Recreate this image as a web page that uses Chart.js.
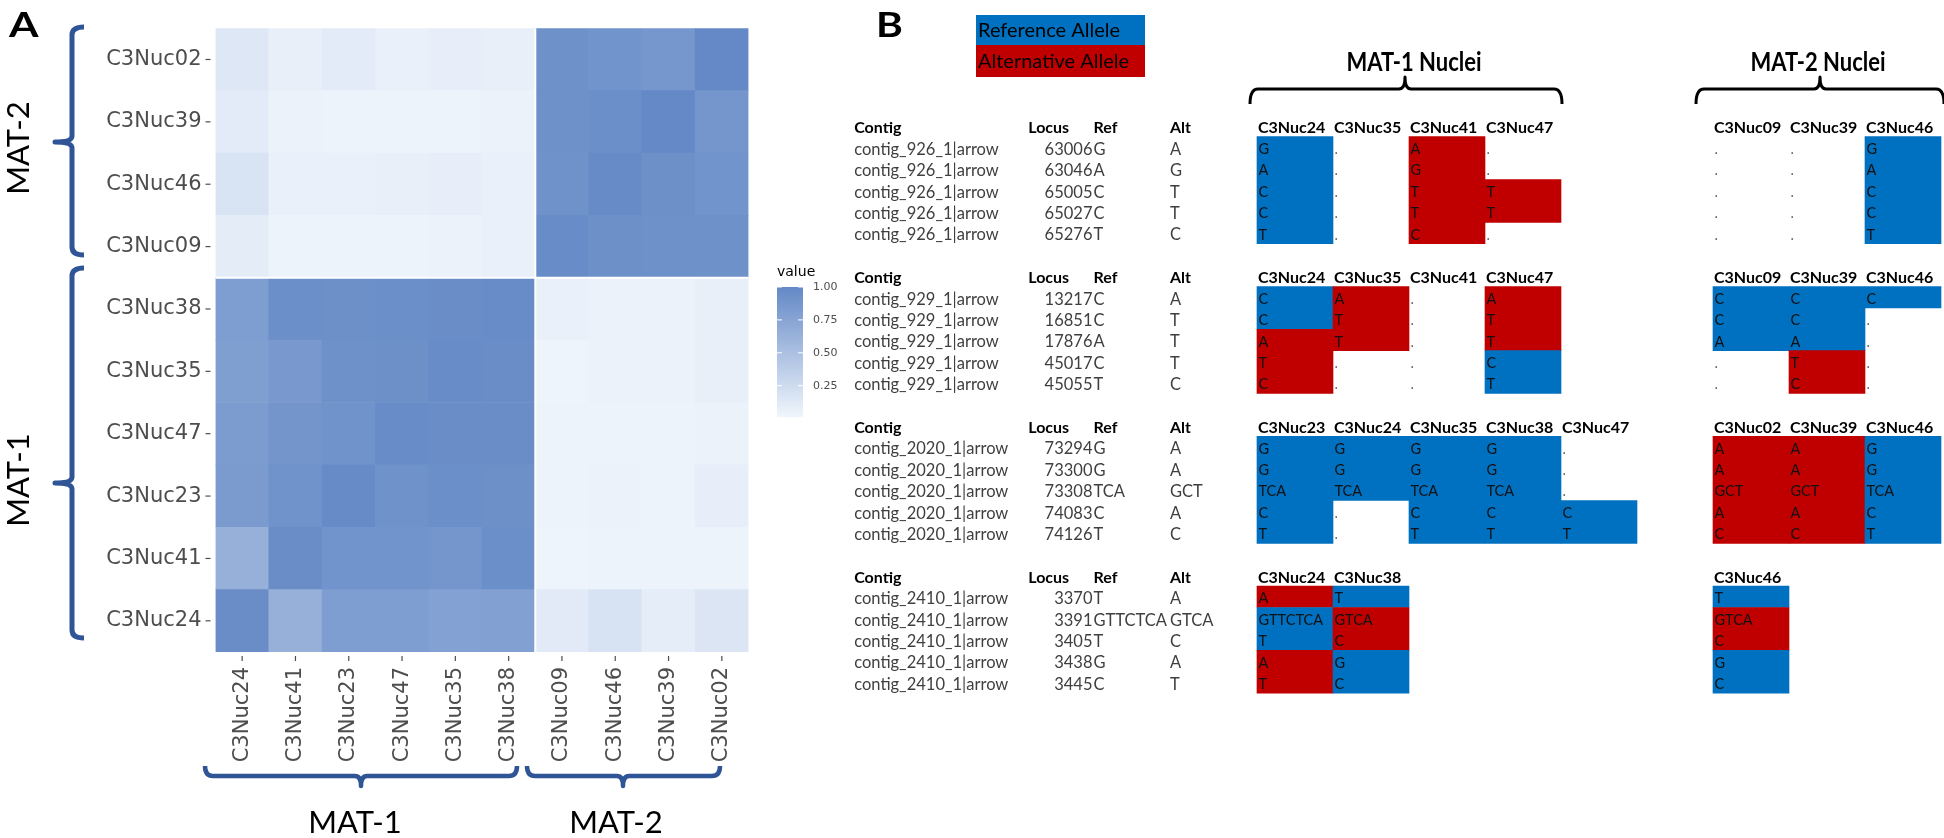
<!DOCTYPE html>
<html><head><meta charset="utf-8">
<script src="https://cdn.jsdelivr.net/npm/chart.js@4.4.1/dist/chart.umd.min.js"></script>
<style>
html,body{margin:0;padding:0;background:#fff;}
#wrap{position:relative;width:1944px;height:838px;overflow:hidden;background:#fff;}
canvas{position:absolute;left:0;top:0;}
</style></head><body>
<div id="wrap"><canvas id="heat" width="1944" height="838"></canvas><canvas id="alle" width="1944" height="838"></canvas></div>
<script>
// ================= Panel A data =================
const COL_NUCLEI = ['C3Nuc24','C3Nuc41','C3Nuc23','C3Nuc47','C3Nuc35','C3Nuc38','C3Nuc09','C3Nuc46','C3Nuc39','C3Nuc02'];
const ROW_NUCLEI = ['C3Nuc02','C3Nuc39','C3Nuc46','C3Nuc09','C3Nuc38','C3Nuc35','C3Nuc47','C3Nuc23','C3Nuc41','C3Nuc24']; // top -> bottom
const sim_C3Nuc02 = [0.15,0.07,0.11,0.06,0.08,0.07,0.93,0.90,0.87,1.00];
const sim_C3Nuc39 = [0.11,0.05,0.04,0.04,0.04,0.05,0.93,0.95,1.00,0.88];
const sim_C3Nuc46 = [0.18,0.06,0.06,0.07,0.08,0.06,0.92,0.98,0.94,0.90];
const sim_C3Nuc09 = [0.10,0.04,0.04,0.04,0.05,0.06,0.97,0.94,0.93,0.93];
const sim_C3Nuc38 = [0.82,0.95,0.94,0.95,0.96,0.97,0.06,0.05,0.05,0.07];
const sim_C3Nuc35 = [0.80,0.86,0.93,0.94,0.97,0.96,0.03,0.05,0.05,0.07];
const sim_C3Nuc47 = [0.83,0.89,0.91,0.97,0.96,0.96,0.04,0.04,0.04,0.05];
const sim_C3Nuc23 = [0.84,0.91,0.98,0.92,0.95,0.94,0.04,0.05,0.04,0.08];
const sim_C3Nuc41 = [0.65,0.96,0.90,0.90,0.88,0.95,0.03,0.04,0.04,0.04];
const sim_C3Nuc24 = [0.96,0.65,0.82,0.82,0.78,0.79,0.12,0.19,0.09,0.16];
const SIM_ROWS = [sim_C3Nuc02,sim_C3Nuc39,sim_C3Nuc46,sim_C3Nuc09,sim_C3Nuc38,sim_C3Nuc35,sim_C3Nuc47,sim_C3Nuc23,sim_C3Nuc41,sim_C3Nuc24];
const LEGEND_TICKS = [0.25,0.50,0.75,1.00];
const LEGEND_LIMITS = [0.012,1.00];
const GROUP_LABELS = ['MAT-1','MAT-2'];

// ================= Panel B data =================
const contig926 = 'contig_926_1|arrow';
const loci926 = [63006,63046,65005,65027,65276];
const ref926 = ['G','A','C','C','T'];
const alt926 = ['A','G','T','T','C'];
const mat1Nuclei926 = ['C3Nuc24','C3Nuc35','C3Nuc41','C3Nuc47'];
const mat1Calls926 = [['G','A','C','C','T'],['.','.','.','.','.'],['A','G','T','T','C'],['.','.','T','T','.']];
const mat1State926 = ['RRRRR','.....','AAAAA','..AA.'];
const mat2Nuclei926 = ['C3Nuc09','C3Nuc39','C3Nuc46'];
const mat2Calls926 = [['.','.','.','.','.'],['.','.','.','.','.'],['G','A','C','C','T']];
const mat2State926 = ['.....','.....','RRRRR'];

const contig929 = 'contig_929_1|arrow';
const loci929 = [13217,16851,17876,45017,45055];
const ref929 = ['C','C','A','C','T'];
const alt929 = ['A','T','T','T','C'];
const mat1Nuclei929 = ['C3Nuc24','C3Nuc35','C3Nuc41','C3Nuc47'];
const mat1Calls929 = [['C','C','A','T','C'],['A','T','T','.','.'],['.','.','.','.','.'],['A','T','T','C','T']];
const mat1State929 = ['RRAAA','AAA..','.....','AAARR'];
const mat2Nuclei929 = ['C3Nuc09','C3Nuc39','C3Nuc46'];
const mat2Calls929 = [['C','C','A','.','.'],['C','C','A','T','C'],['C','.','.','.','.']];
const mat2State929 = ['RRR..','RRRAA','R....'];

const contig2020 = 'contig_2020_1|arrow';
const loci2020 = [73294,73300,73308,74083,74126];
const ref2020 = ['G','G','TCA','C','T'];
const alt2020 = ['A','A','GCT','A','C'];
const mat1Nuclei2020 = ['C3Nuc23','C3Nuc24','C3Nuc35','C3Nuc38','C3Nuc47'];
const mat1Calls2020 = [['G','G','TCA','C','T'],['G','G','TCA','.','.'],['G','G','TCA','C','T'],['G','G','TCA','C','T'],['.','.','.','C','T']];
const mat1State2020 = ['RRRRR','RRR..','RRRRR','RRRRR','...RR'];
const mat2Nuclei2020 = ['C3Nuc02','C3Nuc39','C3Nuc46'];
const mat2Calls2020 = [['A','A','GCT','A','C'],['A','A','GCT','A','C'],['G','G','TCA','C','T']];
const mat2State2020 = ['AAAAA','AAAAA','RRRRR'];

const contig2410 = 'contig_2410_1|arrow';
const loci2410 = [3370,3391,3405,3438,3445];
const ref2410 = ['T','GTTCTCA','T','G','C'];
const alt2410 = ['A','GTCA','C','A','T'];
const mat1Nuclei2410 = ['C3Nuc24','C3Nuc38'];
const mat1Calls2410 = [['A','GTTCTCA','T','A','T'],['T','GTCA','C','G','C']];
const mat1State2410 = ['ARRAA','RAARR'];
const mat2Nuclei2410 = ['C3Nuc46'];
const mat2Calls2410 = [['T','GTCA','C','G','C']];
const mat2State2410 = ['RAARR'];

const TABLE_HEADERS = ['Contig','Locus','Ref','Alt'];
const LEGEND_ITEMS = ['Reference Allele','Alternative Allele'];
const GROUP_TITLES = ['MAT-1 Nuclei','MAT-2 Nuclei'];

// ================= styles / layout =================
const LOW = [242,247,253], HIGH = [100,137,198];
function fillFor(v){
  const t = Math.max(0, Math.min(1, v));
  const c = LOW.map((l,i)=>Math.round(l + (HIGH[i]-l)*t));
  return `rgb(${c[0]},${c[1]},${c[2]})`;
}
const REF_BLUE = '#0070c0', ALT_RED = '#c00000';
const BRACE_BLUE = '#2f5597';
const AX_FONT = 'DejaVu Sans';
const B_FONT = 'Lato';

function txt(ctx, s, x, y, font, color, align, sx, sy, base){
  ctx.save(); ctx.font = font; ctx.fillStyle = color; ctx.textAlign = align || 'left';
  ctx.textBaseline = base || 'middle';
  ctx.translate(x, y); ctx.scale(sx || 1, sy || 1); ctx.fillText(s, 0, 0); ctx.restore();
}
function braceV(ctx, x, y1, y2, ym, xEnd, xNub, lw, color){
  const r = 8;
  ctx.save(); ctx.strokeStyle = color; ctx.lineWidth = lw; ctx.lineJoin='round'; ctx.lineCap='butt';
  ctx.beginPath();
  ctx.moveTo(xEnd, y1);
  ctx.quadraticCurveTo(x, y1, x, y1 + r);
  ctx.lineTo(x, ym - 6);
  ctx.quadraticCurveTo(x, ym, xNub, ym);
  ctx.quadraticCurveTo(x, ym, x, ym + 6);
  ctx.lineTo(x, y2 - r);
  ctx.quadraticCurveTo(x, y2, xEnd, y2);
  ctx.stroke(); ctx.restore();
}
function braceH(ctx, y, x1, x2, xm, yEnd, yNub, lw, color){
  const r = 8;
  ctx.save(); ctx.strokeStyle = color; ctx.lineWidth = lw; ctx.lineJoin='round'; ctx.lineCap='butt';
  ctx.beginPath();
  ctx.moveTo(x1, yEnd);
  ctx.quadraticCurveTo(x1, y, x1 + r, y);
  ctx.lineTo(xm - 6, y);
  ctx.quadraticCurveTo(xm, y, xm, yNub);
  ctx.quadraticCurveTo(xm, y, xm + 6, y);
  ctx.lineTo(x2 - r, y);
  ctx.quadraticCurveTo(x2, y, x2, yEnd);
  ctx.stroke(); ctx.restore();
}

// ================= Panel A chart =================
const bottomUp = ROW_NUCLEI.slice().reverse();
const heatDatasets = bottomUp.map((name) => {
  const vals = SIM_ROWS[ROW_NUCLEI.indexOf(name)];
  return {
    label: name,
    data: COL_NUCLEI.map(() => 1),
    backgroundColor: vals.map(fillFor),
    borderWidth: 0,
    barPercentage: 1,
    categoryPercentage: 1,
    stack: 'cells'
  };
});

const heatDecor = {
  id: 'heatDecor',
  afterDatasetsDraw(chart){
    const ctx = chart.ctx, ca = chart.chartArea;
    const xs = chart.scales.x, ys = chart.scales.y;
    ctx.save(); ctx.strokeStyle = '#ffffff'; ctx.lineWidth = 2;
    const xb = (xs.getPixelForValue(5) + xs.getPixelForValue(6)) / 2;
    const yb = ys.getPixelForValue(6);
    ctx.beginPath(); ctx.moveTo(xb, ca.top); ctx.lineTo(xb, ca.bottom);
    ctx.moveTo(ca.left, yb); ctx.lineTo(ca.right, yb); ctx.stroke(); ctx.restore();
  },
  afterDraw(chart){
    const ctx = chart.ctx, ca = chart.chartArea;
    const xs = chart.scales.x, ys = chart.scales.y;
    ctx.save(); ctx.strokeStyle = '#4d4d4d'; ctx.lineWidth = 1.2;
    ys.ticks.forEach((t,i) => {
      const y = ys.getPixelForTick(i);
      ctx.beginPath(); ctx.moveTo(ca.left - 10, y); ctx.lineTo(ca.left - 5, y); ctx.stroke();
    });
    COL_NUCLEI.forEach((c,i) => {
      const x = xs.getPixelForTick(i);
      ctx.beginPath(); ctx.moveTo(x, ca.bottom + 4); ctx.lineTo(x, ca.bottom + 9); ctx.stroke();
    });
    ctx.restore();

    const bx = 777, bw = 26, yTop = 287, yBot = 417;
    const vToY = v => yBot - (v - LEGEND_LIMITS[0]) / (LEGEND_LIMITS[1] - LEGEND_LIMITS[0]) * (yBot - yTop);
    for (let y = yTop; y < yBot; y++) {
      const v = LEGEND_LIMITS[0] + (yBot - y - 0.5) / (yBot - yTop) * (LEGEND_LIMITS[1] - LEGEND_LIMITS[0]);
      ctx.fillStyle = fillFor(v); ctx.fillRect(bx, y, bw, 1.2);
    }
    ctx.save(); ctx.strokeStyle = '#ffffff'; ctx.lineWidth = 1;
    LEGEND_TICKS.forEach(v => {
      const y = vToY(v);
      ctx.beginPath(); ctx.moveTo(bx, y); ctx.lineTo(bx + 5, y);
      ctx.moveTo(bx + bw - 5, y); ctx.lineTo(bx + bw, y); ctx.stroke();
      txt(ctx, v.toFixed(2), bx + bw + 10, y, `11px "${AX_FONT}"`, '#4d4d4d', 'left');
    });
    ctx.restore();
    txt(ctx, 'value', bx, 272, `14px "${AX_FONT}"`, '#000', 'left');

    braceV(ctx, 72, 27, 255, 142, 84, 55, 5, BRACE_BLUE);
    braceV(ctx, 72, 268, 638, 483, 84, 55, 5, BRACE_BLUE);
    braceH(ctx, 776, 205, 517, 361, 766, 786, 4.5, BRACE_BLUE);
    braceH(ctx, 776, 527, 720, 623, 766, 786, 4.5, BRACE_BLUE);

    const gf = `31px "${B_FONT}"`;
    ctx.save(); ctx.translate(19, 148); ctx.rotate(-Math.PI/2);
    txt(ctx, GROUP_LABELS[1], 0, 0, gf, '#000', 'center'); ctx.restore();
    ctx.save(); ctx.translate(19, 480); ctx.rotate(-Math.PI/2);
    txt(ctx, GROUP_LABELS[0], 0, 0, gf, '#000', 'center'); ctx.restore();
    txt(ctx, GROUP_LABELS[0], 355, 823, gf, '#000', 'center');
    txt(ctx, GROUP_LABELS[1], 616, 823, gf, '#000', 'center');

    txt(ctx, 'A', 9, 37, `bold 34px "${B_FONT}"`, '#000', 'left', 1.25, 1, 'alphabetic');
  }
};

new Chart(document.getElementById('heat'), {
  type: 'bar',
  data: { labels: COL_NUCLEI, datasets: heatDatasets },
  options: {
    responsive: false, animation: false,
    layout: { padding: { left: 0, top: 28.3, right: 1944 - 748.5, bottom: 0 } },
    plugins: { legend: { display: false }, tooltip: { enabled: false } },
    scales: {
      x: {
        type: 'category', stacked: true, offset: true,
        grid: { display: false, drawTicks: false }, border: { display: false },
        ticks: { autoSkip: false, minRotation: 90, maxRotation: 90, padding: 15,
                 color: '#4d4d4d', font: { family: AX_FONT, size: 21 } },
        afterFit: s => { s.height = 838 - 652; }
      },
      y: {
        type: 'linear', stacked: true, min: 0, max: ROW_NUCLEI.length,
        grid: { display: false, drawTicks: false }, border: { display: false },
        afterBuildTicks: s => { s.ticks = bottomUp.map((_, i) => ({ value: i + 0.5 })); },
        ticks: { autoSkip: false, padding: 14, color: '#4d4d4d', font: { family: AX_FONT, size: 21 },
                 callback: (v, i) => bottomUp[i] },
        afterFit: s => { s.width = 215.5; }
      }
    }
  },
  plugins: [heatDecor]
});

// ================= Panel B chart =================
const L = { colW: 76, col0: 1257, mat2Offset: 6, row0: 126, rowH: 21.4, blockStep: 7, W: 1944, H: 838 };
const TX = { contig: -5.30, locusHead: -3.01, locusRight: -2.165, ref: -2.15, alt: -1.145 };

const blocks = [
  { contig: contig926, loci: loci926, ref: ref926, alt: alt926, m1: mat1Nuclei926, m1c: mat1Calls926, m1s: mat1State926, m2: mat2Nuclei926, m2c: mat2Calls926, m2s: mat2State926 },
  { contig: contig929, loci: loci929, ref: ref929, alt: alt929, m1: mat1Nuclei929, m1c: mat1Calls929, m1s: mat1State929, m2: mat2Nuclei929, m2c: mat2Calls929, m2s: mat2State929 },
  { contig: contig2020, loci: loci2020, ref: ref2020, alt: alt2020, m1: mat1Nuclei2020, m1c: mat1Calls2020, m1s: mat1State2020, m2: mat2Nuclei2020, m2c: mat2Calls2020, m2s: mat2State2020 },
  { contig: contig2410, loci: loci2410, ref: ref2410, alt: alt2410, m1: mat1Nuclei2410, m1c: mat1Calls2410, m1s: mat1State2410, m2: mat2Nuclei2410, m2c: mat2Calls2410, m2s: mat2State2410 }
];
function blockColumns(b){
  return [
    ...b.m1.map((n, j) => ({ name: n, col: j, calls: b.m1c[j], state: b.m1s[j] })),
    ...b.m2.map((n, j) => ({ name: n, col: L.mat2Offset + j, calls: b.m2c[j], state: b.m2s[j] }))
  ];
}
const cellBars = [], cellColors = [];
blocks.forEach((b, bi) => {
  const base = bi * L.blockStep;
  blockColumns(b).forEach(c => {
    let i = 0; const n = c.state.length;
    while (i < n) {
      const s = c.state[i];
      if (s === '.') { i++; continue; }
      let j = i; while (j + 1 < n && c.state[j + 1] === s) j++;
      cellBars.push({ x: c.col + 0.5, y: [base + 0.5 + i, base + 1.5 + j] });
      cellColors.push(s === 'R' ? REF_BLUE : ALT_RED);
      i = j + 1;
    }
  });
});

const tableText = {
  id: 'tableText',
  afterDatasetsDraw(chart){
    const ctx = chart.ctx;
    const xs = chart.scales.x, ys = chart.scales.y;
    const px = v => xs.getPixelForValue(v), py = v => ys.getPixelForValue(v) + 2;
    const hFont = `bold 16px "${B_FONT}"`, bFont = `16.5px "${B_FONT}"`, cFont = `14.5px "${B_FONT}"`;
    blocks.forEach((b, bi) => {
      const base = bi * L.blockStep;
      const yh = py(base);
      txt(ctx, TABLE_HEADERS[0], px(TX.contig), yh, hFont, '#000', 'left');
      txt(ctx, TABLE_HEADERS[1], px(TX.locusHead), yh, hFont, '#000', 'left');
      txt(ctx, TABLE_HEADERS[2], px(TX.ref), yh, hFont, '#000', 'left');
      txt(ctx, TABLE_HEADERS[3], px(TX.alt), yh, hFont, '#000', 'left');
      b.loci.forEach((locus, i) => {
        const y = py(base + 1 + i);
        txt(ctx, b.contig, px(TX.contig), y, bFont, '#3f3f3f', 'left');
        txt(ctx, String(locus), px(TX.locusRight), y, bFont, '#3f3f3f', 'right');
        txt(ctx, b.ref[i], px(TX.ref), y, bFont, '#3f3f3f', 'left');
        txt(ctx, b.alt[i], px(TX.alt), y, bFont, '#3f3f3f', 'left');
      });
      blockColumns(b).forEach(c => {
        txt(ctx, c.name, px(c.col) + 1, yh, hFont, '#000', 'left');
        c.calls.forEach((call, i) => {
          const y = py(base + 1 + i);
          txt(ctx, call, px(c.col) + 1.5, y, cFont, call === '.' ? '#666' : '#111', 'left');
        });
      });
    });

    ctx.fillStyle = REF_BLUE; ctx.fillRect(976, 15, 169, 30);
    ctx.fillStyle = ALT_RED; ctx.fillRect(976, 45, 169, 32);
    txt(ctx, LEGEND_ITEMS[0], 978, 31, `20px "${B_FONT}"`, '#000', 'left');
    txt(ctx, LEGEND_ITEMS[1], 978, 62, `20px "${B_FONT}"`, '#000', 'left');

    const m1a = px(0) - 7, m1b = px(4) + 1, m1m = (px(0) + px(4)) / 2 - 4;
    const m2a = px(L.mat2Offset) - 17, m2b = px(L.mat2Offset + 3) + 3, m2m = (px(L.mat2Offset) + px(L.mat2Offset + 3)) / 2 - 7;
    braceH(ctx, 89, m1a, m1b, m1m, 104, 77, 3, '#000');
    braceH(ctx, 89, m2a, m2b, m2m, 104, 77, 3, '#000');
    txt(ctx, GROUP_TITLES[0], m1m + 9, 62, `bold 22px "${B_FONT}"`, '#000', 'center', 1, 1.2);
    txt(ctx, GROUP_TITLES[1], m2m - 2, 62, `bold 22px "${B_FONT}"`, '#000', 'center', 1, 1.2);

    txt(ctx, 'B', 876, 37, `bold 34px "${B_FONT}"`, '#000', 'left', 1.2, 1, 'alphabetic');
  }
};

new Chart(document.getElementById('alle'), {
  type: 'bar',
  data: { datasets: [{ label: 'alleles', data: cellBars, backgroundColor: cellColors, borderWidth: 0, barPercentage: 1, categoryPercentage: 1 }] },
  options: {
    responsive: false, animation: false,
    layout: { padding: 0 },
    plugins: { legend: { display: false }, tooltip: { enabled: false } },
    scales: {
      x: { type: 'linear', display: false, offset: false, grid: { offset: false }, min: -L.col0 / L.colW, max: (L.W - L.col0) / L.colW, ticks: { count: 2 } },
      y: { type: 'linear', display: false, offset: false, reverse: true, min: -L.row0 / L.rowH, max: (L.H - L.row0) / L.rowH, ticks: { count: 2 } }
    }
  },
  plugins: [tableText]
});
</script>
</body></html>
